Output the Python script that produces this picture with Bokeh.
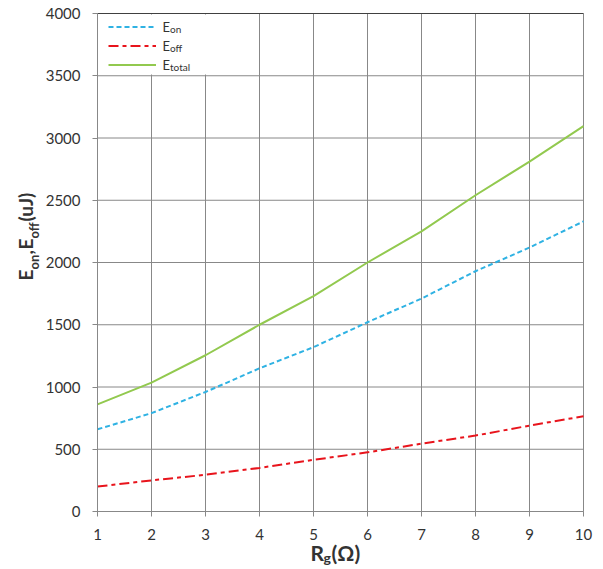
import math
from bokeh.plotting import figure
from bokeh.models import (Range1d, FixedTicker, Legend, LegendItem, Label, BoxAnnotation)
from bokeh.embed import file_html
from bokeh.resources import INLINE

# ---- data ----
rg = [1, 2, 3, 4, 5, 6, 7, 8, 9, 10]
e_on = [660, 790, 960, 1150, 1320, 1520, 1710, 1930, 2120, 2330]
e_off = [200, 250, 295, 350, 415, 475, 545, 610, 690, 765]
e_total = [860, 1035, 1255, 1500, 1730, 2000, 2250, 2540, 2810, 3095]
x_ticks = [1, 2, 3, 4, 5, 6, 7, 8, 9, 10]
y_ticks = [0, 500, 1000, 1500, 2000, 2500, 3000, 3500, 4000]
legend_subs = ["on", "off", "total"]

FONT = "Lato"
GRID = "#888888"
TXT = "#333333"

W, H = 603, 569
# plot area in canvas pixels: left, right, top, bottom
PL, PR, PT, PB = 97, 583, 13, 511
xmin, xmax = x_ticks[0], x_ticks[-1]
ymin, ymax = y_ticks[0], y_ticks[-1]
xs = (xmax - xmin) / (PR - PL)
ys = (ymax - ymin) / (PB - PT)

# the frame spans the whole canvas; axes sit at fixed locations inside it
p = figure(width=W, height=H, output_backend="svg", toolbar_location=None,
           x_range=Range1d(xmin - PL * xs, xmax + (W - PR) * xs),
           y_range=Range1d(ymin - (H - PB) * ys, ymax + PT * ys),
           min_border=0)
p.background_fill_color = "white"
p.border_fill_color = "white"
p.outline_line_color = None
p.xgrid.visible = False
p.ygrid.visible = False

# grid lines (from the tick lists)
n_x, n_y = len(x_ticks), len(y_ticks)
p.segment(x0=x_ticks, y0=[ymin] * n_x, x1=x_ticks, y1=[ymax] * n_x,
          line_color=GRID, line_width=1)
p.segment(x0=[xmin] * (n_y - 1), y0=y_ticks[:-1], x1=[xmax] * (n_y - 1), y1=y_ticks[:-1],
          line_color=GRID, line_width=1)
p.segment(x0=[xmin], y0=[ymax], x1=[xmax], y1=[ymax], line_color="#404040", line_width=1)

for ax in (p.xaxis, p.yaxis):
    ax.axis_line_color = GRID
    ax.major_tick_line_color = GRID
    ax.major_tick_out = 5
    ax.major_tick_in = 0
    ax.minor_tick_line_color = None
    ax.major_label_text_font = FONT
    ax.major_label_text_font_size = "15px"
    ax.major_label_text_color = TXT
p.xaxis.ticker = FixedTicker(ticks=x_ticks)
p.yaxis.ticker = FixedTicker(ticks=y_ticks)
p.xaxis.fixed_location = ymin
p.yaxis.fixed_location = xmin
p.xaxis.bounds = (xmin, xmax)
p.yaxis.bounds = (ymin, ymax)
p.xaxis.major_label_standoff = 12
p.yaxis.major_label_standoff = 12

r_on = p.line(rg, e_on, line_color="#2fb2e3", line_width=2, line_dash="5 3")
r_off = p.line(rg, e_off, line_color="#e8141c", line_width=2, line_dash="10 4 4 4")
r_tot = p.line(rg, e_total, line_color="#92c94f", line_width=2)

# white box behind the legend
p.add_layout(BoxAnnotation(left=PL + 1, right=206, top=PT + 1, bottom=74,
                           left_units="canvas", right_units="canvas",
                           top_units="canvas", bottom_units="canvas",
                           fill_color="white", fill_alpha=1, line_color=None,
                           level="annotation"))

legend = Legend(items=[LegendItem(label=" ", renderers=[r_on]),
                       LegendItem(label=" ", renderers=[r_off]),
                       LegendItem(label=" ", renderers=[r_tot])],
                location=(108, H - PT - 61), padding=2, margin=0, spacing=0,
                glyph_width=48, glyph_height=19, label_height=19,
                label_width=0, label_standoff=0,
                border_line_color=None, background_fill_alpha=0)
legend.label_text_font_size = "1px"
p.add_layout(legend, "center")

# legend texts with subscripts (canvas units)
for i, sub in enumerate(legend_subs):
    yc = PT + 2 + 9.5 + 19 * i
    p.add_layout(Label(x=162, y=yc + 1.5, x_units="canvas", y_units="canvas", text="E",
                       text_font=FONT, text_font_size="13px", text_color=TXT,
                       text_baseline="middle", level="overlay"))
    p.add_layout(Label(x=169.5, y=yc + 4, x_units="canvas", y_units="canvas", text=sub,
                       text_font=FONT, text_font_size="10px", text_color=TXT,
                       text_baseline="middle", level="overlay"))

# x axis title: R_g(Ω)
xt = dict(x_units="canvas", y_units="canvas", text_font=FONT, text_font_style="bold",
          text_color=TXT, text_baseline="middle", level="overlay")
p.add_layout(Label(x=310, y=552, text="R", text_font_size="21px", **xt))
p.add_layout(Label(x=323, y=557, text="g", text_font_size="14px", **xt))
p.add_layout(Label(x=331, y=552, text="(Ω)", text_font_size="21px", **xt))

# y axis title: E_on, E_off(uJ), rotated
yt = dict(x_units="canvas", y_units="canvas", text_font=FONT, text_font_style="bold",
          text_color=TXT, text_baseline="middle", angle=math.pi / 2, level="overlay")
y0 = 280
pieces = [("E", 19, 0, 11), ("on", 13, 8, 15), (",", 19, 0, 5), ("E", 19, 0, 11),
          ("off", 13, 8, 17), ("(uJ)", 19, 0, 31)]
for txt, sz, dx, w in pieces:
    p.add_layout(Label(x=25 + dx, y=y0, text=txt, text_font_size=f"{sz}px", **yt))
    y0 -= w

open("out.html", "w").write(file_html(p, INLINE))
